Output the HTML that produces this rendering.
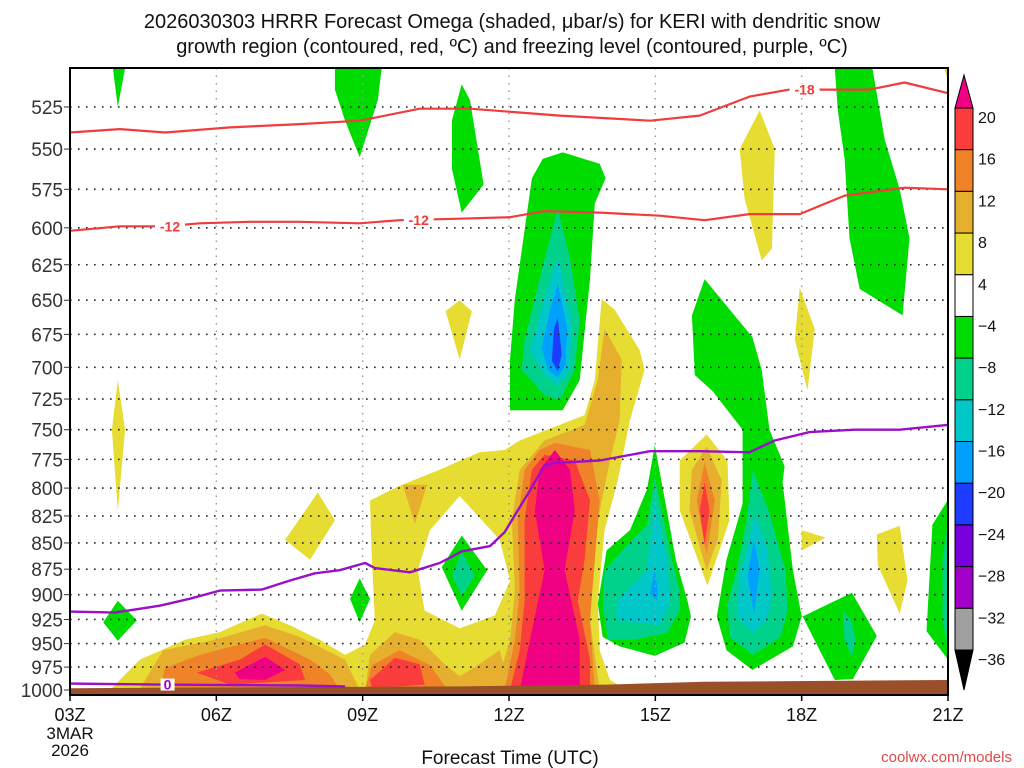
<!DOCTYPE html>
<html><head><meta charset="utf-8"><title>HRRR Omega KERI</title>
<style>
html,body{margin:0;padding:0;background:#fff;}
svg{display:block;font-family:"Liberation Sans",sans-serif;}
</style></head>
<body>
<svg id="chart" width="1024" height="768" viewBox="0 0 1024 768">
<text x="512" y="28" text-anchor="middle" font-size="20" fill="#111">2026030303 HRRR Forecast Omega (shaded, μbar/s) for KERI with dendritic snow</text>
<text x="512" y="53" text-anchor="middle" font-size="20" fill="#111">growth region (contoured, red, ºC) and freezing level (contoured, purple, ºC)</text>
<g id="fills"></g>
<g id="grid"></g>
<g id="lines"></g>
<g id="axes"></g>
<g id="cbar"></g>
<text x="510" y="764" text-anchor="middle" font-size="19" fill="#111">Forecast Time (UTC)</text>
<text x="1012" y="762" text-anchor="end" font-size="15" fill="#e04848">coolwx.com/models</text>
</svg>
<script>
// ---- data (hours after 03Z, pressure mb) ----
const xTickLabels = ["03Z","06Z","09Z","12Z","15Z","18Z","21Z"];
const xTickHours = [0,3,6,9,12,15,18];
const pLevels = [525,550,575,600,625,650,675,700,725,750,775,800,825,850,875,900,925,950,975,1000];
const cbarLabels = [20,16,12,8,4,-4,-8,-12,-16,-20,-24,-28,-32,-36];
const cbarColors = ["#fa3c3c","#f08228","#e6af2d","#e6dc32","#ffffff","#00dc00","#00d28c","#00c8c8","#00a0ff","#1e3cff","#7800dc","#a000c8","#a0a0a0"];

const yellowAreas = [
 [[0.82,1000],[1.43,967],[2.36,946],[3.07,938],[3.93,919],[4.51,931],[5.12,946],[5.64,962],[6.05,951],[6.25,926],[6.19,866],[6.15,811],[6.76,798],[7.58,784],[7.89,778],[8.40,769],[8.91,767],[9.22,759],[10.04,746],[10.55,738],[10.76,710],[10.90,649],[11.17,657],[11.68,687],[11.78,702],[11.48,742],[11.23,793],[10.96,838],[10.82,906],[10.86,957],[11.07,989],[11.37,998],[12.19,992],[12.19,1000]],
 [[0.98,710],[1.13,750],[0.98,820],[0.86,750]],
 [[5.08,804],[5.43,829],[4.92,866],[4.41,847]],
 [[14.14,527],[14.45,550],[14.39,614],[14.18,622],[13.83,581],[13.73,550]],
 [[14.96,641],[15.27,671],[15.12,718],[14.86,679]],
 [[15.0,838],[15.49,845],[15.0,857]],
 [[16.54,842],[17.01,834],[17.17,886],[17.01,919],[16.56,871]],
 [[17.92,503],[18,503],[18,510]],
 [[13.05,754],[13.48,776],[13.52,829],[13.07,891],[12.50,820],[12.50,776]],
 [[7.99,650],[8.24,658],[7.99,694],[7.70,658]]
];
const holeAreas = [
 [[7.99,807],[8.81,847],[9.02,886],[8.71,921],[7.99,934],[7.27,916],[7.13,876],[7.38,838]]
];
const l8Areas = [
 [[10.96,671],[11.31,694],[11.27,742],[11.07,776],[10.86,820],[10.72,866],[10.66,926],[10.86,1000],[8.71,1000],[9.02,946],[9.12,896],[9.06,829],[9.22,784],[9.73,759],[10.55,746],[10.82,710]],
 [[1.43,1000],[1.54,989],[1.91,957],[2.97,946],[4.0,931],[4.71,943],[5.33,959],[5.64,967],[5.94,1000]],
 [[6.05,1000],[6.15,962],[6.66,938],[7.17,946],[7.68,972],[7.99,985],[8.30,975],[8.81,957],[9.02,1000]],
 [[6.82,797],[7.32,797],[7.07,832]],
 [[13.05,764],[13.36,793],[13.28,847],[13.05,876],[12.70,820],[12.75,784]]
];
const l12Areas = [
 [[9.63,767],[9.94,761],[10.66,767],[10.86,811],[10.76,866],[10.66,926],[10.76,1000],[8.91,1000],[9.12,946],[9.22,896],[9.18,829],[9.32,784]],
 [[1.84,1000],[1.95,976],[2.66,962],[4.0,944],[4.92,967],[5.33,983],[5.53,1000]],
 [[6.05,1000],[6.19,973],[6.76,957],[7.38,973],[7.75,1000]],
 [[13.01,778],[13.22,811],[13.05,861],[12.85,811]]
];
const l16Areas = [
 [[9.47,784],[9.73,771],[10.35,776],[10.66,811],[10.55,866],[10.41,906],[10.66,967],[10.66,1000],[9.02,1000],[9.22,957],[9.32,906],[9.32,829]],
 [[2.60,981],[3.48,967],[4.0,951],[4.71,972],[4.82,989],[3.28,994]],
 [[6.15,989],[6.66,965],[7.17,972],[7.27,994],[6.19,998]],
 [[13.01,795],[13.11,820],[13.01,852],[12.91,820]]
];
const l20Areas = [
 [[9.63,784],[9.94,767],[10.25,784],[10.35,820],[10.14,876],[10.45,946],[10.45,1000],[9.22,1000],[9.43,946],[9.73,876],[9.53,820]],
 [[3.38,981],[4.0,964],[4.41,978],[4.0,989],[3.48,988]]
];
const m4Areas = [
 [[0.88,503],[1.13,503],[0.98,525]],
 [[5.43,503],[6.39,503],[6.31,521],[5.94,555],[5.64,533],[5.43,515]],
 [[8.03,512],[8.20,521],[8.48,572],[8.03,590],[7.83,562],[7.83,533]],
 [[9.69,556],[10.10,552],[10.86,559],[10.98,568],[10.76,584],[10.66,635],[10.45,710],[10.10,734],[9.02,734],[9.02,694],[9.12,649],[9.47,568]],
 [[8.03,843],[8.55,876],[8.03,916],[7.62,873]],
 [[11.99,763],[12.21,814],[12.42,866],[12.66,906],[12.73,922],[12.60,949],[11.99,963],[11.27,953],[10.92,943],[10.82,909],[11.0,857],[11.48,838],[11.83,801]],
 [[13.01,635],[13.99,677],[14.18,702],[14.34,750],[14.65,781],[14.61,795],[14.82,876],[15.0,922],[14.82,953],[13.99,978],[13.46,957],[13.26,922],[13.46,866],[13.79,814],[13.79,750],[13.18,719],[12.81,706],[12.75,661]],
 [[15.02,922],[16.03,898],[16.54,942],[16.05,988],[15.68,989]],
 [[17.99,811],[17.68,833],[17.56,937],[18,967]],
 [[15.68,503],[16.45,503],[16.70,544],[17.01,575],[17.21,607],[17.07,661],[16.19,642],[15.98,607],[15.88,556],[15.74,527]],
 [[0.98,906],[1.37,926],[0.98,947],[0.68,928]],
 [[5.94,884],[6.15,904],[5.94,928],[5.74,904]]
];
const m8Areas = [
 [[10.0,588],[10.25,621],[10.45,664],[10.35,702],[10.04,726],[9.73,722],[9.26,702],[9.32,679],[9.73,621]],
 [[8.03,859],[8.30,881],[8.03,901],[7.83,881]],
 [[11.99,790],[12.34,866],[12.50,896],[12.50,916],[12.24,939],[11.55,946],[11.03,946],[10.92,909],[10.96,876],[11.42,852],[11.83,833]],
 [[14.0,784],[14.32,820],[14.67,876],[14.71,916],[14.57,943],[14.0,962],[13.52,943],[13.48,909],[13.67,876],[13.87,829]],
 [[15.84,916],[16.02,926],[16.11,946],[16.03,964],[15.88,946]],
 [[18,831],[17.89,866],[17.89,926],[18,957]]
];
const m12Areas = [
 [[10.0,620],[10.29,664],[10.25,702],[10.0,714],[9.73,706],[9.43,687],[9.73,649]],
 [[11.99,811],[12.24,866],[12.30,909],[12.09,931],[11.21,926],[11.21,906],[11.83,876]],
 [[14.04,823],[14.30,857],[14.39,902],[14.28,926],[14.0,939],[13.67,922],[13.73,881],[13.87,857]]
];
const m16Areas = [
 [[10.0,638],[10.20,671],[10.16,698],[10.0,708],[9.80,702],[9.67,685],[9.84,657]],
 [[11.99,876],[12.05,896],[12.03,906],[11.89,899]],
 [[14.02,847],[14.14,876],[14.02,919],[13.89,881]]
];
const m20Areas = [
 [[10.0,663],[10.08,690],[10.0,703],[9.88,695],[9.92,671]]
];
const minus18Line = [[0,540],[1.02,538],[1.95,540],[3.28,537],[4.71,535],[5.94,533],[7.17,526],[8.20,526],[10.04,530],[11.89,533],[12.91,530],[13.93,519],[14.75,515],[15.78,515],[16.39,515],[17.11,511],[17.99,517]];
const minus12Line = [[0,602],[1.02,599],[1.95,599],[2.66,597],[3.69,596],[4.71,596],[5.94,597],[6.76,595],[7.99,594],[9.02,593],[9.73,589],[10.86,590],[12.09,592],[13.01,595],[13.93,591],[14.96,591],[15.88,579],[17.11,574],[17.99,575]];
const freezeLine = [[0,917],[0.92,918],[1.84,911],[2.46,904],[3.07,896],[3.93,895],[4.51,886],[5.02,879],[5.53,876],[6.05,869],[6.25,874],[6.97,878],[7.58,869],[8.03,858],[8.61,853],[8.91,840],[9.18,820],[9.39,805],[9.73,780],[9.94,778],[10.86,776],[11.89,768],[12.91,768],[13.93,769],[14.45,759],[15.16,752],[16.09,750],[17.01,750],[17.99,746]];
const freezeLineLow = [[0,993],[1.84,994],[4.71,995],[5.64,996]];
const groundHours = [0,4,8,11,13,18];
const groundPres = [998,997,996,994,991,989];
const lineLabels = [{t:"-12",h:2.05,p:599,c:"#f03c3c"},{t:"-12",h:7.15,p:595,c:"#f03c3c"},{t:"-18",h:15.06,p:515,c:"#f03c3c"},{t:"0",h:2.0,p:994,c:"#a000c8"}];

// ---- axes ----
const X0=70, X1=948, Y0=68, Y1=695;
const yRef=107, yK=583/Math.log(1000/525);
function xs(h){return X0 + h*(X1-X0)/18;}
function ys(p){return yRef + yK*Math.log(p/525);}
const NS="http://www.w3.org/2000/svg";
function mk(tag, attrs, parent){const e=document.createElementNS(NS,tag);for(const k in attrs)e.setAttribute(k,attrs[k]);parent.appendChild(e);return e;}
function pts(a){return a.map(d=>xs(d[0]).toFixed(1)+","+ys(d[1]).toFixed(1)).join(" ");}

const fills=document.getElementById('fills');
const clip=mk('clipPath',{id:'plotclip'},document.getElementById('chart'));
mk('rect',{x:X0,y:Y0,width:X1-X0,height:Y1-Y0},clip);
fills.setAttribute('clip-path','url(#plotclip)');
const layers=[[yellowAreas,"#e6dc32","yellow-area"],[holeAreas,"#ffffff","white-area"],[l8Areas,"#e6af2d","omega-8-area"],[l12Areas,"#f08228","omega-12-area"],[l16Areas,"#fa3c3c","omega-16-area"],[l20Areas,"#f00082","omega-20-area"],[m4Areas,"#00dc00","omega-m4-area"],[m8Areas,"#00d28c","omega-m8-area"],[m12Areas,"#00c8c8","omega-m12-area"],[m16Areas,"#00a0ff","omega-m16-area"],[m20Areas,"#1e3cff","omega-m20-area"]];
layers.forEach(L=>{L[0].forEach(a=>{
  const e=mk('polygon',{points:pts(a),fill:L[1]},fills);
  
  
});});

// grid
const grid=document.getElementById('grid');
pLevels.forEach(p=>{
  const e=mk('line',{x1:X0,x2:X1,y1:ys(p),y2:ys(p),stroke:"#222","stroke-width":1.6,"stroke-dasharray":"1.6 6.4"},grid);
  
  
});
xTickHours.slice(1,-1).forEach(h=>{
  const e=mk('line',{x1:xs(h),x2:xs(h),y1:Y0,y2:Y1,stroke:"#999","stroke-width":1.4,"stroke-dasharray":"1.5 6"},grid);
  
  
});
// ground
const g=[];groundHours.forEach((h,i)=>g.push([h,groundPres[i]]));
const gp=pts(g)+" "+xs(18)+","+Y1+" "+xs(0)+","+Y1;
const ge=mk('polygon',{points:gp,fill:"#9a4f2a"},grid);



// lines
const lines=document.getElementById('lines');
function pl(a,c,w,name){const e=mk('polyline',{points:pts(a),fill:"none",stroke:c,"stroke-width":w,"stroke-linejoin":"round"},lines);
  
  }
pl(minus18Line,"#f03c3c",2.2,"minus18-contour");
pl(minus12Line,"#f03c3c",2.2,"minus12-contour");
pl(freezeLine,"#9a10c8",2.4,"freezing-level-contour");
pl(freezeLineLow,"#9a10c8",2.4,"zero-contour-low");
lineLabels.forEach(l=>{
  const w=l.t.length*8+6;
  const bg=mk('rect',{x:xs(l.h)-w/2,y:ys(l.p)-6,width:w,height:12,fill:"#fff"},lines);
  
  
  const t=mk('text',{x:xs(l.h),y:ys(l.p)+5,"text-anchor":"middle","font-size":14,"font-weight":"bold",fill:l.c},lines);
  t.textContent=l.t;
  
  
});

// axes
const axes=document.getElementById('axes');
const fr=mk('rect',{x:X0,y:Y0,width:X1-X0,height:Y1-Y0,fill:"none",stroke:"#000","stroke-width":2},axes);


pLevels.forEach(p=>{
  const t=mk('text',{x:63,y:ys(p)+7,"text-anchor":"end","font-size":19,fill:"#333"},axes);
  t.textContent=p;
  
  
  const tk=mk('line',{x1:X0-6,x2:X0,y1:ys(p),y2:ys(p),stroke:"#333","stroke-width":1},axes);
  
  
});
xTickHours.forEach((h,i)=>{
  const t=mk('text',{x:xs(h),y:721,"text-anchor":"middle","font-size":18,fill:"#111"},axes);
  t.textContent=xTickLabels[i];
  
  
  const tk=mk('line',{x1:xs(h),x2:xs(h),y1:Y1,y2:Y1+6,stroke:"#000","stroke-width":1.5},axes);
  
  
});
["3MAR","2026"].forEach((s,i)=>{
  const t=mk('text',{x:xs(0),y:739+i*17,"text-anchor":"middle","font-size":17,fill:"#111"},axes);
  t.textContent=s;
  
  
});

// colorbar
const cb=document.getElementById('cbar');
const CX=955, CW=18, CT=108, CB=650, bh=(CB-CT)/cbarColors.length;
const tri1=mk('polygon',{points:`${CX},${CT} ${CX+CW},${CT} ${CX+CW/2},75`,fill:"#f00082",stroke:"#000","stroke-width":1},cb);


cbarColors.forEach((c,i)=>{
  const r=mk('rect',{x:CX,y:CT+i*bh,width:CW,height:bh,fill:c,stroke:"#000","stroke-width":1},cb);
  
  
});
const tri2=mk('polygon',{points:`${CX},${CB} ${CX+CW},${CB} ${CX+CW/2},690`,fill:"#000",stroke:"#000","stroke-width":1},cb);


cbarLabels.forEach((v,i)=>{
  const t=mk('text',{x:978,y:CT+i*bh+15,"font-size":16,fill:"#111"},cb);
  t.textContent=v<0?"\u2212"+(-v):String(v);
  
  
});
</script>
</body></html>
